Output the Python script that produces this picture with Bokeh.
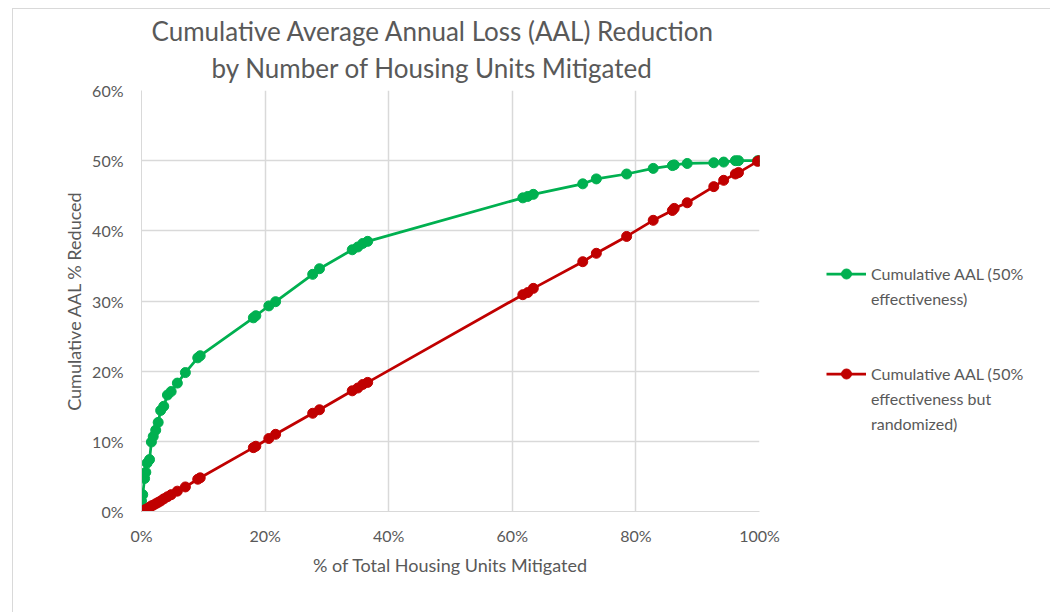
from bokeh.plotting import figure
from bokeh.layouts import row
from bokeh.models import (Title, Legend, LegendItem, FixedTicker, PrintfTickFormatter, Range1d)
from bokeh.embed import file_html
from bokeh.resources import INLINE

# % of total housing units mitigated (shared by both series)
units_pct = [0.0, 0.2, 0.5, 0.7, 0.9, 1.3, 1.6, 1.9, 2.3, 2.7, 3.1, 3.6, 4.2, 4.8, 5.8, 7.1, 9.1, 9.5,
             18.1, 18.5, 20.6, 21.7, 27.7, 28.8, 34.1, 35.0, 35.8, 36.6, 61.7, 62.5, 63.4, 71.4, 73.6,
             78.5, 82.8, 85.9, 86.2, 88.3, 92.6, 94.2, 96.1, 96.6, 99.7, 100.0]

# cumulative AAL % reduced, units ordered by loss (50% effectiveness)
aal_ordered = [1.5, 2.4, 4.7, 5.6, 6.9, 7.4, 9.9, 10.7, 11.6, 12.7, 14.4, 15.0, 16.6, 17.1, 18.3, 19.8, 21.9, 22.2,
               27.6, 27.9, 29.3, 29.9, 33.8, 34.6, 37.3, 37.7, 38.2, 38.5, 44.7, 44.9, 45.2, 46.7, 47.4,
               48.1, 48.9, 49.3, 49.4, 49.6, 49.7, 49.8, 50.0, 50.0, 50.0, 50.0]

# cumulative AAL % reduced, units in random order (50% effectiveness)
aal_random = [0.0, 0.1, 0.2, 0.3, 0.4, 0.6, 0.8, 0.9, 1.1, 1.3, 1.5, 1.8, 2.1, 2.4, 2.9, 3.5, 4.6, 4.8,
              9.1, 9.3, 10.4, 11.0, 14.0, 14.5, 17.2, 17.6, 18.1, 18.4, 30.9, 31.2, 31.8, 35.6, 36.8,
              39.2, 41.5, 42.9, 43.2, 44.0, 46.3, 47.2, 48.1, 48.3, 49.9, 50.0]

x_ticks = [0, 20, 40, 60, 80, 100]
y_ticks = [0, 10, 20, 30, 40, 50, 60]

GREEN = "#00B050"
RED = "#C00000"
TEXT = "#595959"
GRID = "#D9D9D9"
FONT = "Lato"
LINE_W = 2.75
MARK = 10

# ---- chart panel ----
p = figure(width=787, height=604, output_backend="svg", toolbar_location=None,
           x_range=Range1d(0, 100), y_range=Range1d(0, 60),
           min_border_left=128, min_border_right=41, min_border_top=81, min_border_bottom=102)
p.margin = (8, 0, 0, 12)
p.styles = {"border-top": "1px solid #D9D9D9", "border-left": "1px solid #D9D9D9"}
p.outline_line_color = None
p.background_fill_color = "white"
p.border_fill_color = "white"

# title, two lines
t2 = Title(text="by Number of Housing Units Mitigated", align="left", offset=70, standoff=13,
           text_font=FONT, text_font_size="26px", text_font_style="normal", text_color=TEXT)
t1 = Title(text="Cumulative Average Annual Loss (AAL) Reduction", align="left", offset=10, standoff=-7,
           text_font=FONT, text_font_size="26px", text_font_style="normal", text_color=TEXT)
p.add_layout(t2, "above")
p.add_layout(t1, "above")

# axes
for ax in (p.xaxis[0], p.yaxis[0]):
    ax.axis_line_color = GRID
    ax.axis_line_width = 1
    ax.major_tick_line_color = None
    ax.minor_tick_line_color = None
    ax.major_tick_in = 0
    ax.major_tick_out = 0
    ax.minor_tick_out = 0
    ax.major_label_text_font = FONT
    ax.major_label_text_font_size = "16px"
    ax.major_label_text_color = TEXT
    ax.axis_label_text_font = FONT
    ax.axis_label_text_font_size = "18px"
    ax.axis_label_text_font_style = "normal"
    ax.axis_label_text_color = TEXT
    ax.formatter = PrintfTickFormatter(format="%d%%")

p.xaxis.ticker = FixedTicker(ticks=x_ticks)
p.yaxis.ticker = FixedTicker(ticks=y_ticks)
p.xaxis.axis_label = "% of Total Housing Units Mitigated"
p.yaxis.axis_label = "Cumulative AAL % Reduced"
p.xaxis.major_label_standoff = 14
p.xaxis.axis_label_standoff = 6
p.yaxis.major_label_standoff = 18
p.yaxis.axis_label_standoff = 4

p.xgrid.ticker = FixedTicker(ticks=x_ticks)
p.ygrid.ticker = FixedTicker(ticks=y_ticks)
p.grid.grid_line_color = GRID
p.grid.grid_line_width = 1.5

# series
p.line(units_pct, aal_ordered, line_color=GREEN, line_width=LINE_W)
p.scatter(units_pct, aal_ordered, size=MARK, fill_color=GREEN, line_color=GREEN)
p.line(units_pct, aal_random, line_color=RED, line_width=LINE_W)
p.scatter(units_pct, aal_random, size=MARK, fill_color=RED, line_color=RED)

# ---- legend panel (its view range lies outside the data, so only the keys show) ----
q = figure(width=251, height=604, output_backend="svg", toolbar_location=None,
           x_range=Range1d(1000, 1001), y_range=Range1d(1000, 1001),
           x_axis_location=None, y_axis_location=None, min_border=0)
q.margin = (8, 0, 0, 0)
q.styles = {"border-top": "1px solid #D9D9D9"}
q.grid.visible = False
q.outline_line_color = None
q.background_fill_color = "white"
q.border_fill_color = "white"

kg_line = q.line(units_pct, aal_ordered, line_color=GREEN, line_width=LINE_W)
kg_pts = q.scatter(units_pct, aal_ordered, size=MARK, fill_color=GREEN, line_color=GREEN)
kr_line = q.line(units_pct, aal_random, line_color=RED, line_width=LINE_W)
kr_pts = q.scatter(units_pct, aal_random, size=MARK, fill_color=RED, line_color=RED)
blank = q.line(units_pct, aal_random, line_alpha=0)

legend_rows = [
    ("Cumulative AAL (50%", [kg_line, kg_pts]),
    ("effectiveness)", [blank]),
    (" ", [blank]),
    (" ", [blank]),
    ("Cumulative AAL (50%", [kr_line, kr_pts]),
    ("effectiveness but", [blank]),
    ("randomized)", [blank]),
]
legend = Legend(
    items=[LegendItem(label=txt, renderers=rs) for txt, rs in legend_rows],
    location=(27, 75), glyph_width=40, glyph_height=25, label_standoff=5, padding=0, margin=0,
    spacing=0, border_line_color=None, background_fill_alpha=0,
    label_text_font=FONT, label_text_font_size="16px", label_text_color=TEXT)
q.add_layout(legend, "center")

layout = row(p, q)
open("out.html", "w").write(file_html(layout, INLINE))
